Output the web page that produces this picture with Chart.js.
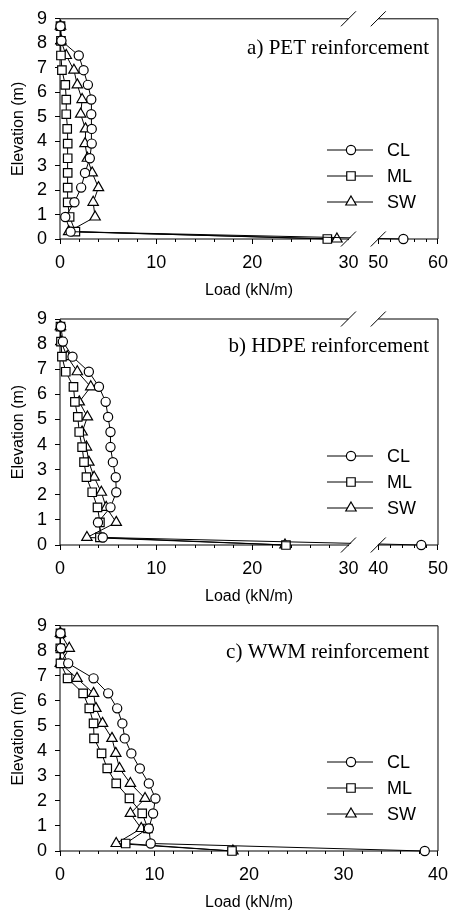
<!DOCTYPE html>
<html>
<head>
<meta charset="utf-8">
<script src="https://cdn.jsdelivr.net/npm/chart.js@4.4.0/dist/chart.umd.min.js"></script>
<style>
  html, body { margin: 0; padding: 0; background: #fff; }
  #wrap { position: relative; width: 456px; height: 913px; }
  canvas { position: absolute; left: 0; }
</style>
</head>
<body>
<div id="wrap">
  <canvas id="pa" width="456" height="301" style="top:0px"></canvas>
  <canvas id="pb" width="456" height="307" style="top:300px"></canvas>
  <canvas id="pc" width="456" height="306" style="top:607px"></canvas>
</div>
<script>
// Tensile load along the wall height, three soils per reinforcement type.
// Each series runs bottom to top, matching `elevation`.
const elevation = [0, 0.3, 0.9, 1.5, 2.1, 2.7, 3.3, 3.9, 4.5, 5.1, 5.7, 6.3, 6.9, 7.5, 8.1, 8.7];
const seriesNames = ["CL", "ML", "SW"];

// a) PET
const petCL = [54.2, 1.1, 0.55, 1.5, 2.2, 2.6, 3.1, 3.3, 3.3, 3.25, 3.25, 2.9, 2.45, 1.95, 0.15, 0.05];
const petML = [27.8, 1.6, 1.0, 0.8, 0.8, 0.8, 0.8, 0.8, 0.75, 0.65, 0.65, 0.55, 0.2, 0.1, 0.1, 0.05];
const petSW = [28.8, 0.9, 3.65, 3.45, 4.0, 3.35, 2.85, 2.6, 2.65, 2.15, 2.3, 1.8, 1.45, 0.65, 0.1, 0.05];

// b) HDPE
const hdpeCL = [47.2, 4.45, 3.95, 5.25, 5.85, 5.8, 5.5, 5.25, 5.25, 5.0, 4.75, 4.05, 3.0, 1.3, 0.3, 0.1];
const hdpeML = [23.5, 4.15, 4.15, 3.9, 3.35, 2.75, 2.5, 2.3, 2.0, 1.85, 1.55, 1.4, 0.6, 0.2, 0.1, 0.05];
const hdpeSW = [23.4, 2.8, 5.85, 4.8, 4.3, 3.55, 3.0, 2.75, 2.3, 2.85, 2.0, 3.2, 1.8, 0.75, 0.1, 0.05];

// c) WWM
const wwmCL = [38.6, 9.6, 9.4, 9.85, 10.1, 9.4, 8.45, 7.55, 6.85, 6.6, 6.05, 5.1, 3.55, 0.87, 0.1, 0.05];
const wwmML = [18.2, 6.95, 9.3, 8.7, 7.35, 5.95, 5.0, 4.4, 3.6, 3.55, 3.1, 2.45, 0.8, 0.05, 0.03, 0.05];
const wwmSW = [18.3, 5.95, 8.6, 7.45, 9.0, 7.45, 6.3, 5.9, 5.5, 4.5, 3.8, 3.55, 1.8, 0.03, 0.98, 0.05];

// Axis ticks (labels as printed; broken axes jump 30 -> 50 / 30 -> 40)
const yTicks = [0, 1, 2, 3, 4, 5, 6, 7, 8, 9];
const xTicksPET = [0, 10, 20, 30, 50, 60];
const xTicksHDPE = [0, 10, 20, 30, 40, 50];
const xTicksWWM = [0, 10, 20, 30, 40];
const minorStep = 2;

const SANS = "'Liberation Sans', Arial, sans-serif";
const SERIF = "'Liberation Serif', 'Times New Roman', serif";
Chart.defaults.font.family = SANS;
Chart.defaults.color = "#000";

// broken axis: everything past the break is squeezed into a short right-hand segment
const BREAK_GAP = 3.1, BREAK_SHRINK = 0.621;
function makeMap(brk) {
  if (!brk) return (v) => v;
  return (v) => (v <= brk.lo ? v : brk.lo + BREAK_GAP + (v - brk.hi) * BREAK_SHRINK);
}

const MARKERS = [
  { style: "circle", r: 4.6 },
  { style: "rect", r: 6 },
  { style: "triangle", r: 6 },
];

function marker(ctx, style, r, x, y) {
  ctx.beginPath();
  if (style === "circle") {
    ctx.arc(x, y, r, 0, Math.PI * 2);
  } else if (style === "rect") {
    const s = Math.SQRT1_2 * r;
    ctx.rect(x - s, y - s, 2 * s, 2 * s);
  } else {
    ctx.moveTo(x, y - r);
    ctx.lineTo(x + 0.866 * r, y + 0.5 * r);
    ctx.lineTo(x - 0.866 * r, y + 0.5 * r);
  }
  ctx.closePath();
  ctx.fillStyle = "#fff";
  ctx.fill();
  ctx.stroke();
}

// frame, broken-axis marks, minor ticks, in-plot legend and panel caption
const decor = {
  id: "decor",
  beforeDatasetsDraw(chart, args, o) {
    const { ctx, chartArea: a } = chart;
    const xs = chart.scales.x;
    ctx.save();
    ctx.strokeStyle = "#000";
    ctx.lineWidth = 1;
    ctx.beginPath();
    ctx.moveTo(a.left, a.top); ctx.lineTo(a.left, a.bottom);
    ctx.moveTo(a.right, a.top); ctx.lineTo(a.right, a.bottom);
    if (o.brk) {
      const b1 = xs.getPixelForValue(o.map(o.brk.lo)), b2 = xs.getPixelForValue(o.map(o.brk.hi));
      for (const yy of [a.top, a.bottom]) {
        ctx.moveTo(a.left, yy); ctx.lineTo(b1, yy);
        ctx.moveTo(b2, yy); ctx.lineTo(a.right, yy);
      }
    } else {
      ctx.moveTo(a.left, a.top); ctx.lineTo(a.right, a.top);
      ctx.moveTo(a.left, a.bottom); ctx.lineTo(a.right, a.bottom);
    }
    ctx.stroke();

    // minor ticks every 2 kN/m
    const segs = o.brk ? [[0, o.brk.lo], [o.brk.hi, o.brk.hi + 10]] : [[0, o.ticks[o.ticks.length - 1]]];
    ctx.beginPath();
    for (const [s0, s1] of segs) {
      for (let v = s0 + minorStep; v < s1; v += minorStep) {
        if (v % 10 === 0) continue;
        const px = Math.round(xs.getPixelForValue(o.map(v))) + 0.5;
        ctx.moveTo(px, a.bottom); ctx.lineTo(px, a.bottom + 3);
      }
    }
    ctx.stroke();
    ctx.restore();
  },
  afterDatasetsDraw(chart, args, o) {
    const { ctx, chartArea: a } = chart;
    const xs = chart.scales.x;
    ctx.save();
    ctx.strokeStyle = "#000";
    ctx.lineWidth = 1;
    if (o.brk) {
      const b1 = xs.getPixelForValue(o.map(o.brk.lo)), b2 = xs.getPixelForValue(o.map(o.brk.hi));
      const d = 7.5;
      for (const yy of [a.top, a.bottom]) {
        ctx.beginPath();
        ctx.moveTo(b1 - d + 1, yy + d); ctx.lineTo(b1 + d + 1, yy - d);
        ctx.lineTo(b2 + d - 1, yy - d); ctx.lineTo(b2 - d - 1, yy + d);
        ctx.closePath();
        ctx.fillStyle = "#fff";
        ctx.fill();
        ctx.beginPath();
        ctx.moveTo(b1 - d, yy + d); ctx.lineTo(b1 + d, yy - d);
        ctx.moveTo(b2 - d, yy + d); ctx.lineTo(b2 + d, yy - d);
        ctx.stroke();
      }
    }

    // legend
    const lx = a.right - 87;
    const rows = [89, 63, 37];
    ctx.font = "18px " + SANS;
    ctx.textAlign = "left";
    ctx.textBaseline = "middle";
    rows.forEach((dy, i) => {
      const y = a.bottom - dy;
      ctx.beginPath();
      ctx.moveTo(lx - 24, y); ctx.lineTo(lx + 22, y);
      ctx.lineWidth = 1;
      ctx.stroke();
      ctx.lineWidth = 1.2;
      marker(ctx, MARKERS[i].style, MARKERS[i].r, lx, y);
      ctx.fillStyle = "#000";
      ctx.fillText(seriesNames[i], lx + 36, y + 1);
    });

    // caption
    ctx.font = "21px " + SERIF;
    ctx.textAlign = "right";
    ctx.textBaseline = "alphabetic";
    ctx.fillStyle = "#000";
    ctx.fillText(o.caption, a.right - 9, a.top + o.capDy);
    ctx.restore();
  },
};

function panel(id, caption, capDy, series, ticks, brk, padTop) {
  const map = makeMap(brk);
  const xMax = map(ticks[ticks.length - 1]);
  const datasets = series.map((vals, i) => ({
    label: seriesNames[i],
    data: vals.map((v, k) => ({ x: map(v), y: elevation[k] })),
    showLine: true,
    borderColor: "#000",
    borderWidth: 1,
    backgroundColor: "#fff",
    pointBackgroundColor: "#fff",
    pointBorderColor: "#000",
    pointBorderWidth: 1.2,
    pointStyle: MARKERS[i].style,
    pointRadius: MARKERS[i].r,
    pointHoverRadius: MARKERS[i].r,
    clip: false,
  }));

  new Chart(document.getElementById(id), {
    type: "scatter",
    data: { datasets },
    plugins: [decor],
    options: {
      responsive: false,
      animation: false,
      layout: { padding: { top: padTop, right: 16, left: 0, bottom: 0 } },
      plugins: {
        legend: { display: false },
        tooltip: { enabled: false },
        decor: { caption, capDy, brk, map, ticks },
      },
      scales: {
        x: {
          type: "linear",
          min: 0,
          max: xMax,
          afterFit: (s) => { s.height = 62; },
          afterBuildTicks: (s) => { s.ticks = ticks.map((v) => ({ value: map(v) })); },
          ticks: {
            color: "#000",
            font: { size: 18 },
            padding: 8,
            maxRotation: 0,
            autoSkip: false,
            callback: (v, i) => String(ticks[i]),
          },
          grid: { drawOnChartArea: false, drawTicks: true, tickLength: 5, color: "#000", lineWidth: 1 },
          border: { display: false },
          title: { display: true, text: "Load (kN/m)", color: "#000", font: { size: 16 }, padding: { top: 1, bottom: 1 } },
        },
        y: {
          type: "linear",
          min: 0,
          max: 9,
          afterFit: (s) => { s.width = 60; },
          afterBuildTicks: (s) => { s.ticks = yTicks.map((v) => ({ value: v })); },
          ticks: { color: "#000", font: { size: 18 }, padding: 8, autoSkip: false, callback: (v) => String(v) },
          grid: { drawOnChartArea: false, drawTicks: true, tickLength: 5, color: "#000", lineWidth: 1 },
          border: { display: false },
          title: { display: true, text: "Elevation (m)", color: "#000", font: { size: 16 }, padding: { top: 9, bottom: 9 } },
        },
      },
    },
  });
}

panel("pa", "a) PET reinforcement", 35, [petCL, petML, petSW], xTicksPET, { lo: 30, hi: 50 }, 14);
panel("pb", "b) HDPE reinforcement", 33, [hdpeCL, hdpeML, hdpeSW], xTicksHDPE, { lo: 30, hi: 40 }, 19);
panel("pc", "c) WWM reinforcement", 32, [wwmCL, wwmML, wwmSW], xTicksWWM, null, 17);
</script>
</body>
</html>
